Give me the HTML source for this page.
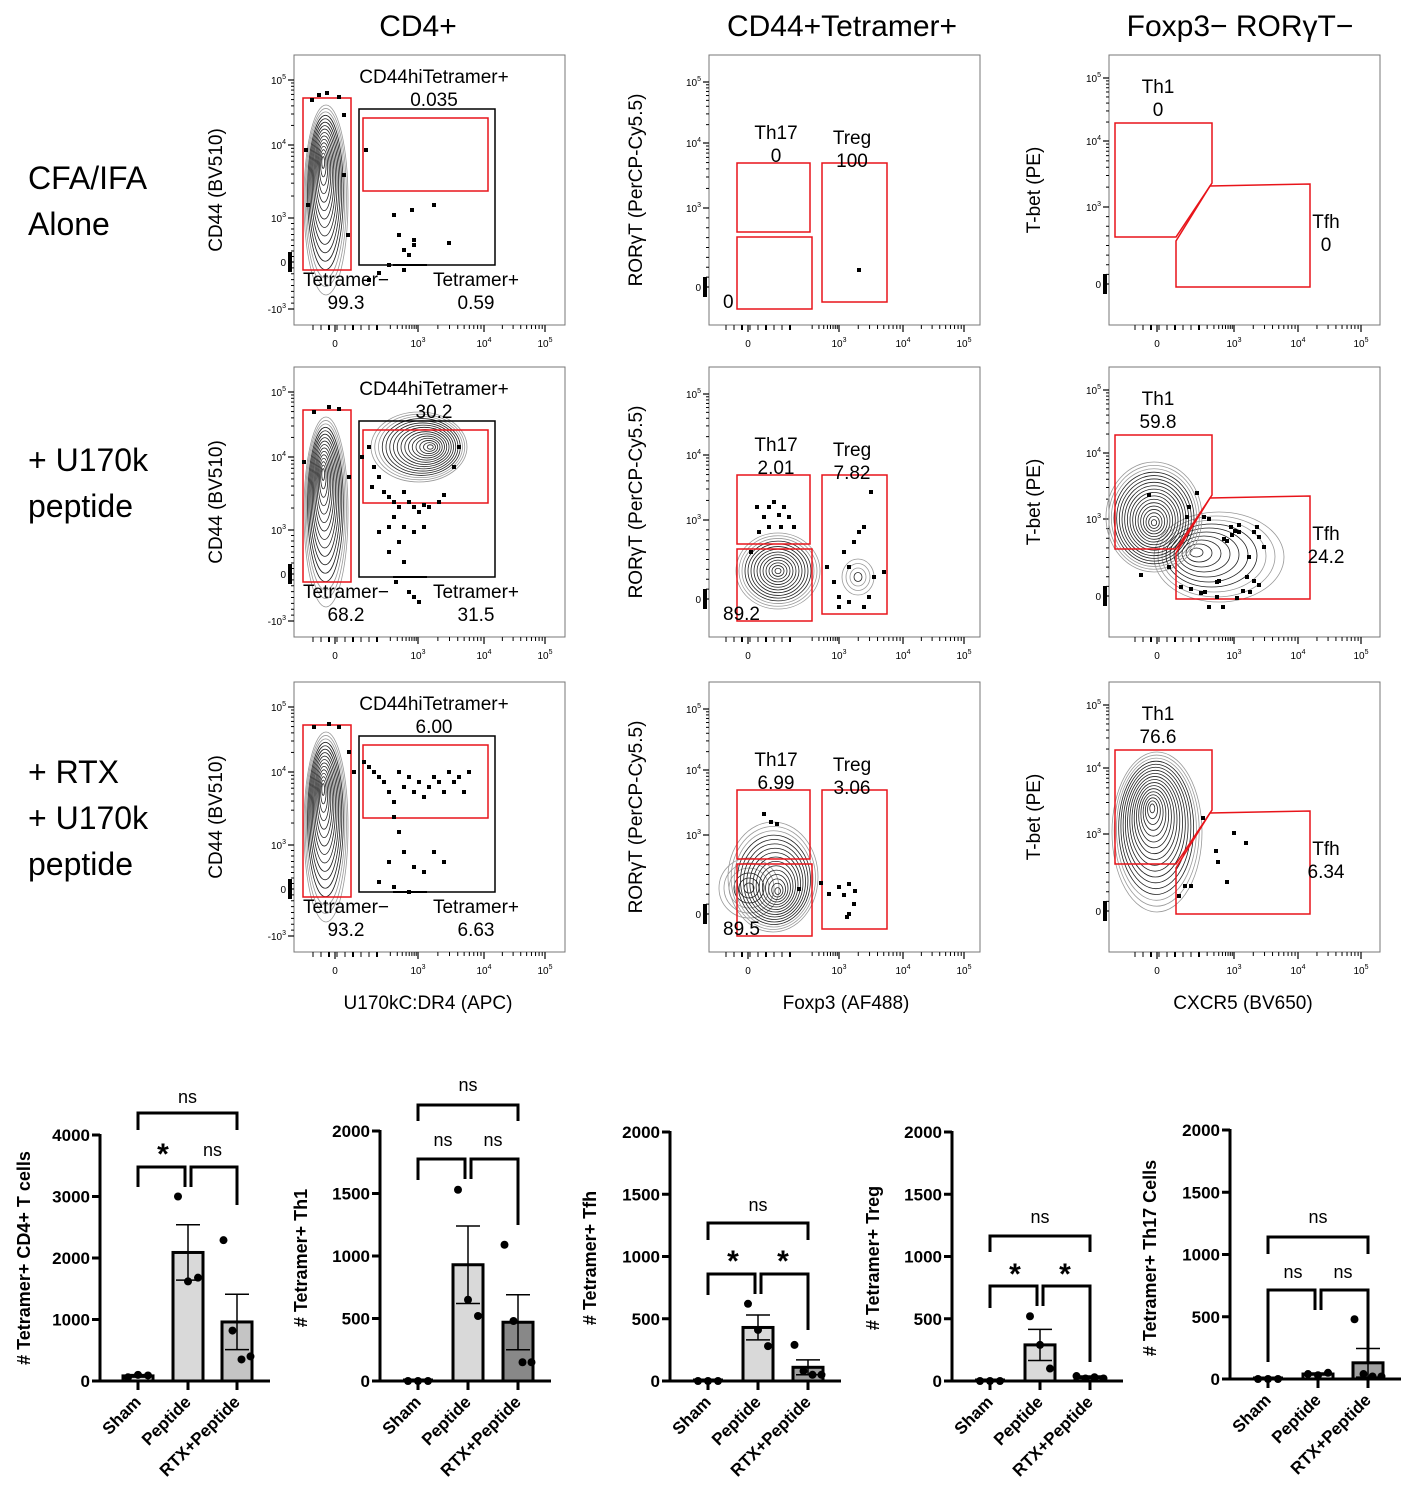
<!DOCTYPE html>
<html><head><meta charset="utf-8"><style>
html,body{margin:0;padding:0;background:#fff;}
svg{display:block;font-family:"Liberation Sans",sans-serif;}
</style></head><body>
<svg id="fig" width="1410" height="1504" viewBox="0 0 1410 1504" xmlns="http://www.w3.org/2000/svg"></svg>
<script>
// ---------- bar chart data ----------
const categories = ["Sham","Peptide","RTX+Peptide"];
const p1Means = [83, 2090, 960];
const p1Sem = [20, 450, 450];
const p1Pts = [[60,100,90],[3000,1620,1680],[2290,820,350,400]];
const p2Means = [0, 930, 470];
const p2Sem = [0, 310, 220];
const p2Pts = [[0,0,0],[1530,650,520],[1090,480,150,150]];
const p3Means = [0, 430, 110];
const p3Sem = [0, 100, 60];
const p3Pts = [[0,0,0],[620,410,280],[290,80,50,50]];
const p4Means = [0, 290, 30];
const p4Sem = [0, 125, 10];
const p4Pts = [[0,0,0],[520,290,100],[40,20,30,20]];
const p5Means = [0, 40, 130];
const p5Sem = [0, 8, 115];
const p5Pts = [[0,0,0],[40,30,50],[480,40,20,20]];
const ticks4000 = [0,1000,2000,3000,4000];
const ticks2000 = [0,500,1000,1500,2000];

const NS="http://www.w3.org/2000/svg";
const svg=document.getElementById('fig');
function mk(tag,attrs,parent){const e=document.createElementNS(NS,tag);for(const k in attrs)e.setAttribute(k,attrs[k]);(parent||svg).appendChild(e);return e;}
function txt(x,y,s,size,parent,extra){const t=mk('text',Object.assign({x:x,y:y,'font-size':size,'text-anchor':'middle',fill:'#000'},extra||{}),parent);t.textContent=s;return t;}

// ---------- titles ----------
let t;
t=txt(418,36,"CD4+",30);
t=txt(842,36,"CD44+Tetramer+",30);
t=txt(1240,36,"Foxp3− RORγT−",30);
const rowLabels=[[189,["CFA/IFA","Alone"]],[471,["+ U170k","peptide"]],[783,["+ RTX","+ U170k","peptide"]]];
rowLabels.forEach((r,i)=>{r[1].forEach((s,j)=>{const e=txt(28,r[0]+j*46,s,32,svg,{'text-anchor':'start'});
});});
t=txt(428,1009,"U170kC:DR4 (APC)",19);
t=txt(846,1009,"Foxp3 (AF488)",19);
t=txt(1243,1009,"CXCR5 (BV650)",19);

// ---------- flow plots ----------
const colX=[294,709,1109], rowY=[55,367,682];
const colYT=[[25,90,163,207,254],[27,88,153,232],[23,86,152,229]];
const colYL=[["5","4","3","0","-3"],["5","4","3","0"],["5","4","3","0"]];
const colXT=[[41,124,190,251],[39,130,194,255],[48,125,189,252]];
const yTitles=["CD44 (BV510)","RORγT (PerCP-Cy5.5)","T-bet (PE)"];
const yTitleX=[222,642,1040];

function powLabel(x,y,e,g,anchor){
  const tt=mk('text',{x:x,y:y,'font-size':10,'text-anchor':anchor,fill:'#000'},g);
  if(e==="0"){tt.textContent="0";}
  else{const neg=e.startsWith('-');tt.textContent=(neg?"-":"")+"10";const s=mk('tspan',{dy:-5,'font-size':7},tt);s.textContent=neg?e.slice(1):e;}
}
function contour(g,cx,cy,rx,ry,n,dx,dy){
  for(let i=0;i<n;i++){const k=1-i/n;const c=mk('ellipse',{cx:cx+dx*(1-k),cy:cy+dy*(1-k),rx:rx*k,ry:ry*k,fill:'none',stroke:i<3?'#999':'#222','stroke-width':0.8},g);
  }
}
function dots(g,arr){arr.forEach(p=>{const d=mk('rect',{x:p[0]-2,y:p[1]-2,width:4,height:4,fill:'#000'},g);
  });}
function redRect(g,x,y,w,h,c){const r=mk('rect',{x:x,y:y,width:w,height:h,fill:'none',stroke:c||'#e8141a','stroke-width':1.5},g);
  return r;}
function poly(g,pts){const p=mk('polygon',{points:pts.map(q=>q.join(',')).join(' '),fill:'none',stroke:'#e8141a','stroke-width':1.5},g);
  }

const col1Vals=[["0.035","99.3","0.59"],["30.2","68.2","31.5"],["6.00","93.2","6.63"]];
const col2Vals=[["0","100","0"],["2.01","7.82","89.2"],["6.99","3.06","89.5"]];
const col3Vals=[["0","0"],["59.8","24.2"],["76.6","6.34"]];
const col1Dots=[
 [[18,45],[25,40],[33,38],[45,42],[50,60],[12,95],[50,120],[14,150],[54,180],[72,95],[75,225],[85,218],[95,210],[100,160],[105,180],[110,195],[120,190],[120,185],[115,200],[140,150],[155,188],[118,155],[110,215]],
 [[20,45],[35,40],[45,42],[10,95],[55,110],[68,90],[75,80],[80,100],[78,120],[85,110],[90,125],[95,130],[100,135],[105,140],[110,125],[115,135],[120,140],[125,145],[130,138],[100,150],[95,160],[110,160],[85,165],[120,165],[130,160],[105,175],[95,185],[110,195],[102,215],[115,225],[120,230],[125,235],[135,140],[145,135],[150,128],[160,100],[165,80]],
 [[20,45],[35,42],[45,45],[55,70],[60,90],[70,80],[75,85],[80,90],[85,95],[90,100],[95,110],[100,120],[105,90],[110,105],[115,95],[120,110],[125,100],[130,115],[135,105],[140,95],[145,100],[150,110],[155,90],[160,100],[165,95],[170,110],[175,90],[100,135],[105,150],[110,170],[95,180],[120,185],[130,190],[85,200],[115,210],[140,170],[150,180],[100,205]]];
const col2Dots=[[[150,215]],
 [[42,185],[50,165],[55,150],[60,140],[65,135],[70,148],[75,140],[80,150],[85,160],[60,160],[72,160],[48,140],[118,200],[125,215],[130,230],[135,185],[140,200],[145,175],[150,165],[155,160],[160,230],[165,210],[175,205],[130,240],[140,235],[155,240],[162,125]],
 [[55,132],[62,140],[68,142],[90,207],[120,212],[130,205],[135,213],[140,202],[146,209],[145,222],[140,232],[138,235],[112,201]]];
const col3Dots=[[],
 [[40,128],[88,126],[80,140],[78,150],[95,150],[100,152],[115,172],[118,174],[122,160],[123,168],[126,164],[130,158],[145,165],[148,160],[150,170],[155,180],[140,190],[138,210],[141,225],[128,231],[108,230],[114,240],[100,240],[96,225],[82,222],[72,220],[92,226],[110,214],[134,224],[145,214],[150,218],[130,165],[32,208],[60,200],[108,215]],
 [[94,136],[107,169],[109,180],[125,151],[137,161],[118,200],[76,204],[82,204],[70,214]]];

for(let c=0;c<3;c++)for(let r=0;r<3;r++){
  const ox=colX[c],oy=rowY[r];
  const g=mk('g',{transform:`translate(${ox},${oy})`});
  
  const box=mk('rect',{x:0,y:0,width:271,height:270,fill:'#fff',stroke:'#777','stroke-width':1},g);
  
  // y ticks
  const yt=colYT[c];
  yt.forEach((v,i)=>{mk('line',{x1:-6,x2:0,y1:v,y2:v,stroke:'#000','stroke-width':1.2},g);powLabel(-8,v+4,colYL[c][i],g,'end');});
  for(let i=0;i<yt.length-1;i++){const a=yt[i],b=yt[i+1];
    if(colYL[c][i+1]==="0"||colYL[c][i]==="0"){for(let k=1;k<8;k++){const y=a+(b-a)*k/8;mk('line',{x1:-3,x2:0,y1:y,y2:y,stroke:'#000','stroke-width':1},g);}}
    else for(let k=2;k<10;k++){const y=b-(b-a)*Math.log10(k);mk('line',{x1:-3,x2:0,y1:y,y2:y,stroke:'#000','stroke-width':1},g);}}
  // x ticks
  const xt=colXT[c];const xl=["0","3","4","5"];
  xt.forEach((v,i)=>{mk('line',{x1:v,x2:v,y1:270,y2:277,stroke:'#000','stroke-width':1.2},g);powLabel(v,292,xl[i],g,'middle');});
  for(let k=1;k<10;k++){const x=xt[0]-30+k*8;mk('line',{x1:x,x2:x,y1:270,y2:275,stroke:'#000','stroke-width':k%3===0?2:1},g);}
  for(let i=1;i<3;i++){const a=xt[i],b=xt[i+1];for(let k=2;k<10;k++){const x=a+(b-a)*Math.log10(k);mk('line',{x1:x,x2:x,y1:270,y2:274,stroke:'#000','stroke-width':1},g);}}
  for(let k=2;k<10;k++){const x=xt[1]-(xt[2]-xt[1])*(1-Math.log10(k))*0.6;mk('line',{x1:x,x2:x,y1:270,y2:274,stroke:'#000','stroke-width':1},g);}
  // dense near-zero marks on y
  const z=yt[colYL[c].indexOf("0")];mk('rect',{x:-6,y:z-10,width:4,height:20,fill:'#000'},g);
  // y title
  const yc=oy+135;
  const ytl=mk('text',{x:yTitleX[c],y:yc,'font-size':19,'text-anchor':'middle',transform:`rotate(-90 ${yTitleX[c]} ${yc})`});
  ytl.textContent=yTitles[c];

  if(c===0){
    contour(g,32,145,22,95,16,-3,-40);
    if(r===1)contour(g,125,80,48,35,16,12,0);
    redRect(g,9,43,48,172);
    redRect(g,65,54,136,156,'#000');
    redRect(g,69,63,125,73);
    mk('line',{x1:99,x2:133,y1:210,y2:210,stroke:'#000','stroke-width':2},g);
    dots(g,col1Dots[r]);
    txt(140,28,"CD44hiTetramer+",19,g);txt(140,51,col1Vals[r][0],19,g);
    txt(52,231,"Tetramer−",19,g);txt(52,254,col1Vals[r][1],19,g);
    txt(182,231,"Tetramer+",19,g);txt(182,254,col1Vals[r][2],19,g);
  } else if(c===1){
    if(r===1){contour(g,69,204,42,38,14,0,0);contour(g,149,210,16,18,4,0,0);}
    if(r===2){contour(g,40,206,30,30,6,0,0);contour(g,64,195,45,55,16,5,15);}
    redRect(g,28,108,73,69);redRect(g,28,182,75,72);redRect(g,113,108,65,139);
    dots(g,col2Dots[r]);
    txt(67,84,"Th17",19,g);txt(67,107,col2Vals[r][0],19,g);
    txt(143,89,"Treg",19,g);txt(143,112,col2Vals[r][1],19,g);
    txt(14,253,col2Vals[r][2],19,g,{'text-anchor':'start'});
  } else {
    if(r===1){contour(g,110,190,65,45,10,-25,-5);contour(g,45,150,48,55,18,0,6);}
    if(r===2){contour(g,48,150,45,80,18,-5,-25);}
    poly(g,[[6,68],[103,68],[103,128],[67,182],[6,182]]);
    poly(g,[[67,186],[67,232],[201,232],[201,129],[101,131]]);
    dots(g,col3Dots[r]);
    txt(49,38,"Th1",19,g);txt(49,61,col3Vals[r][0],19,g);
    txt(217,173,"Tfh",19,g);txt(217,196,col3Vals[r][1],19,g);
  }
}

// ---------- bar charts ----------
const panels=[
 {ax:100,cx:[138,188,237],top:1135,bot:1381,max:4000,ticks:ticks4000,m:p1Means,s:p1Sem,p:p1Pts,title:"# Tetramer+ CD4+ T cells",tx:30,
  br:[[1113,1097,"ns",1130,1130],[1167,1150,"*","ns",1187,1205]],colors:['#d9d9d9','#d9d9d9','#c4c4c4']},
 {ax:380,cx:[418,468,518],top:1131,bot:1381,max:2000,ticks:ticks2000,m:p2Means,s:p2Sem,p:p2Pts,title:"# Tetramer+ Th1",tx:307,
  br:[[1105,1085,"ns",1121,1121],[1159,1140,"ns","ns",1180,1225]],colors:['#d9d9d9','#d9d9d9','#888888']},
 {ax:670,cx:[708,758,808],top:1132,bot:1381,max:2000,ticks:ticks2000,m:p3Means,s:p3Sem,p:p3Pts,title:"# Tetramer+ Tfh",tx:596,
  br:[[1223,1205,"ns",1240,1240],[1274,1257,"*","*",1295,1330]],colors:['#d9d9d9','#d9d9d9','#a0a0a0']},
 {ax:952,cx:[990,1040,1090],top:1132,bot:1381,max:2000,ticks:ticks2000,m:p4Means,s:p4Sem,p:p4Pts,title:"# Tetramer+ Treg",tx:879,
  br:[[1236,1217,"ns",1252,1252],[1286,1270,"*","*",1308,1362]],colors:['#d9d9d9','#d9d9d9','#a0a0a0']},
 {ax:1230,cx:[1268,1318,1368],top:1130,bot:1379,max:2000,ticks:ticks2000,m:p5Means,s:p5Sem,p:p5Pts,title:"# Tetramer+ Th17 Cells",tx:1156,
  br:[[1237,1217,"ns",1254,1254],[1290,1272,"ns","ns",1362,1362]],colors:['#d9d9d9','#d9d9d9','#a0a0a0']}];

panels.forEach((P,pi)=>{
  const g=mk('g',{});
  const ys=v=>P.bot-(v/P.max)*(P.bot-P.top);
  const right=P.cx[2]+33;
  const ya=mk('line',{x1:P.ax,x2:P.ax,y1:P.top-1,y2:P.bot+1.5,stroke:'#000','stroke-width':3},g);
  
  const xa=mk('line',{x1:P.ax-1.5,x2:right,y1:P.bot,y2:P.bot,stroke:'#000','stroke-width':3},g);
  
  P.ticks.forEach(v=>{mk('line',{x1:P.ax-8,x2:P.ax,y1:ys(v),y2:ys(v),stroke:'#000','stroke-width':3},g);
    const tl=txt(P.ax-10,ys(v)+6,String(v),17,g,{'text-anchor':'end','font-weight':'bold'});
    });
  const yt=mk('text',{x:P.tx,y:1258,'font-size':18,'font-weight':'bold','text-anchor':'middle',transform:`rotate(-90 ${P.tx} 1258)`},g);
  yt.textContent=P.title;
  categories.forEach((cat,i)=>{
    const cx=P.cx[i];
    mk('line',{x1:cx,x2:cx,y1:P.bot,y2:P.bot+9,stroke:'#000','stroke-width':3},g);
    const h=P.bot-ys(P.m[i]);
    if(h>0){const b=mk('rect',{x:cx-15,y:ys(P.m[i]),width:30,height:h,fill:P.colors[i],stroke:'#000','stroke-width':3},g);
      }
    else{const b=mk('line',{x1:cx-15,x2:cx+15,y1:P.bot-1,y2:P.bot-1,stroke:'#000','stroke-width':3},g);
      }
    if(P.s[i]>0){const hi=ys(P.m[i]+P.s[i]),lo=ys(Math.max(0,P.m[i]-P.s[i]));
      const e=mk('path',{d:`M${cx},${lo}V${hi}M${cx-12},${hi}H${cx+12}M${cx-12},${lo}H${cx+12}`,stroke:'#000','stroke-width':1.5,fill:'none'},g);
      }
    const pts=P.p[i];pts.forEach((v,k)=>{const off=(k-(pts.length-1)/2)*(pts.length>3?9:10);
      const d=mk('circle',{cx:cx+off,cy:ys(v),r:4,fill:'#000'},g);
      });
    const lx=cx+4,ly=P.bot+22;
    const cl=mk('text',{x:lx,y:ly,'font-size':17,'font-weight':'bold','text-anchor':'end',transform:`rotate(-45 ${lx} ${ly})`},g);
    cl.textContent=cat;
  });
  const [b1,b2]=P.br;
  const a=P.cx[0],m=P.cx[1],c=P.cx[2];
  const top=mk('path',{d:`M${a},${b1[3]}V${b1[0]}H${c}V${b1[4]}`,fill:'none',stroke:'#000','stroke-width':3},g);
  
  let s=txt((a+c)/2,b1[1]+6,b1[2],18,g);
  const l1=mk('path',{d:`M${a},${b2[4]}V${b2[0]}H${m-3}V${b2[0]+20}`,fill:'none',stroke:'#000','stroke-width':3},g);
  
  const l2=mk('path',{d:`M${m+3},${b2[0]+20}V${b2[0]}H${c}V${b2[5]}`,fill:'none',stroke:'#000','stroke-width':3},g);
  
  const big1=b2[2]==="*";
  s=txt((a+m)/2,b2[1]+(big1?14:6),b2[2],big1?30:18,g,big1?{'font-weight':'bold'}:{});
  const big2=b2[3]==="*";
  s=txt((m+c)/2,b2[1]+(big2?14:6),b2[3],big2?30:18,g,big2?{'font-weight':'bold'}:{});
});
</script>
</body></html>
